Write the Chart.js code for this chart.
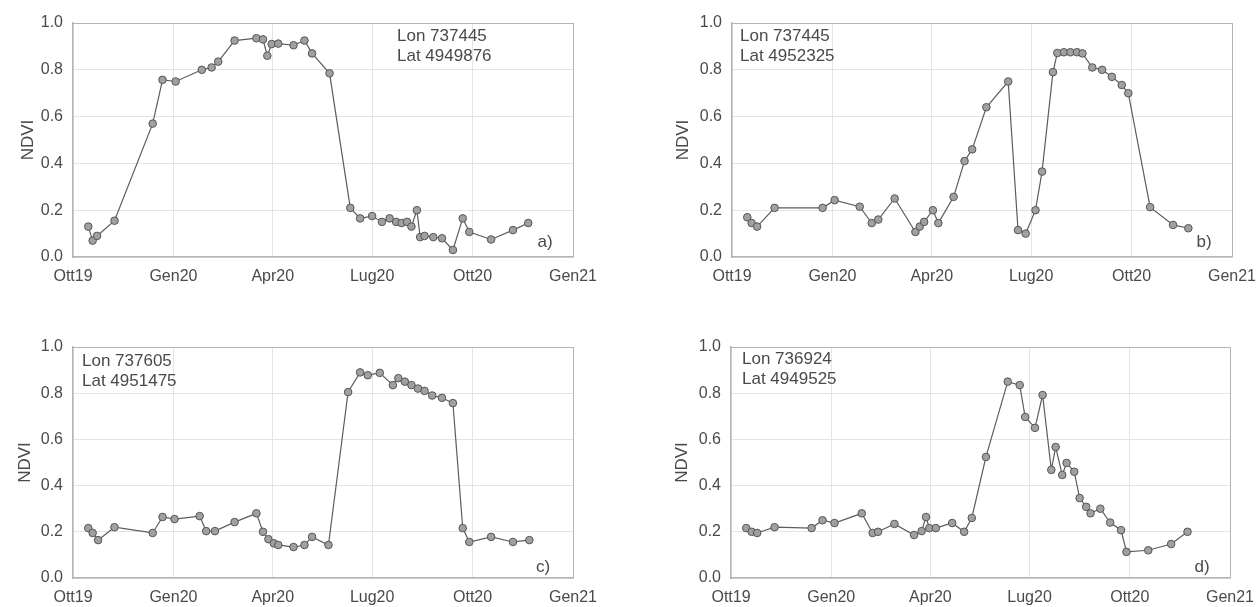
<!DOCTYPE html>
<html>
<head>
<meta charset="utf-8">
<script src="https://cdn.jsdelivr.net/npm/chart.js@4/dist/chart.umd.min.js"></script>
<style>
    html, body { margin: 0; padding: 0; background: #fff; }
    body { width: 1258px; height: 607px; position: relative; overflow: hidden; }
    canvas { position: absolute; }
</style>
</head>
<body>
<canvas id="panel-a" width="600" height="290" style="left:0;top:0"></canvas>
<canvas id="panel-b" width="618" height="290" style="left:640px;top:0"></canvas>
<canvas id="panel-c" width="600" height="287" style="left:0;top:320px"></canvas>
<canvas id="panel-d" width="618" height="287" style="left:640px;top:320px"></canvas>
<script>
// ===========================================
// DATA (days since 1 Oct 2019, NDVI)
// ===========================================
const tickDays = [0, 92, 183, 274, 366, 458];
const tickLabels = ['Ott19', 'Gen20', 'Apr20', 'Lug20', 'Ott20', 'Gen21'];

const daysA = [14, 18, 22, 38, 73, 82, 94, 118, 127, 133, 148, 168, 174, 178, 182, 188, 202, 212, 219, 235,
    254, 263, 274, 283, 290, 296, 301, 306, 310, 315, 318, 322, 330, 338, 348, 357, 363, 383, 403, 417];
const ndviA = [0.13, 0.07, 0.09, 0.155, 0.57, 0.757, 0.75, 0.80, 0.81, 0.835, 0.925, 0.935, 0.93, 0.86, 0.91, 0.912, 0.905, 0.925, 0.87, 0.785,
    0.21, 0.165, 0.175, 0.15, 0.165, 0.15, 0.145, 0.15, 0.13, 0.2, 0.085, 0.09, 0.085, 0.08, 0.03, 0.165, 0.107, 0.075, 0.115, 0.145];

const daysB = [14, 18, 23, 39, 83, 94, 117, 128, 134, 149, 168, 172, 176, 184, 189, 203, 213, 220, 233, 253,
    262, 269, 278, 284, 294, 298, 304, 310, 316, 321, 330, 339, 348, 357, 363, 383, 404, 418];
const ndviB = [0.17, 0.145, 0.13, 0.21, 0.21, 0.243, 0.215, 0.145, 0.16, 0.25, 0.107, 0.13, 0.15, 0.2, 0.145, 0.257, 0.41, 0.46, 0.64, 0.75,
    0.115, 0.10, 0.2, 0.365, 0.79, 0.872, 0.875, 0.875, 0.875, 0.87, 0.81, 0.80, 0.77, 0.735, 0.70, 0.213, 0.137, 0.123];

const daysC = [14, 18, 23, 38, 73, 82, 93, 116, 122, 130, 148, 168, 174, 179, 184, 188, 202, 212, 219, 234,
    252, 263, 270, 281, 293, 298, 304, 310, 316, 322, 329, 338, 348, 357, 363, 383, 403, 418];
const ndviC = [0.216, 0.195, 0.164, 0.22, 0.195, 0.264, 0.255, 0.268, 0.203, 0.203, 0.242, 0.28, 0.20, 0.168, 0.15, 0.143, 0.134, 0.143, 0.178, 0.143,
    0.805, 0.89, 0.878, 0.888, 0.835, 0.865, 0.85, 0.835, 0.82, 0.81, 0.79, 0.78, 0.757, 0.216, 0.156, 0.178, 0.156, 0.164];

const daysD = [14, 19, 24, 40, 74, 84, 95, 120, 130, 135, 150, 168, 175, 179, 182, 188, 203, 214, 221, 234,
    254, 265, 270, 279, 286, 294, 298, 304, 308, 315, 320, 326, 330, 339, 348, 358, 363, 383, 404, 419];
const ndviD = [0.216, 0.2, 0.195, 0.22, 0.216, 0.25, 0.238, 0.28, 0.195, 0.2, 0.234, 0.186, 0.203, 0.264, 0.216, 0.216, 0.238, 0.2, 0.26, 0.524,
    0.85, 0.835, 0.697, 0.65, 0.792, 0.468, 0.567, 0.446, 0.498, 0.46, 0.346, 0.308, 0.28, 0.30, 0.24, 0.207, 0.113, 0.12, 0.147, 0.2];

// ===========================================
// STYLE
// ===========================================
const FONT = 'Liberation Sans, Arial, sans-serif';
const TEXT_COLOR = '#4a4a4a';
const GRID_COLOR = '#e4e4e4';
const FRAME_COLOR = '#b4b4b4';

// text in the corner of each panel (coordinates + panel letter)
const panelText = {
    id: 'panelText',
    afterDraw(chart, args, opts) {
        const ctx = chart.ctx;
        const area = chart.chartArea;
        ctx.save();
        ctx.fillStyle = TEXT_COLOR;
        ctx.font = opts.size + 'px ' + FONT;
        ctx.textBaseline = 'middle';
        ctx.textAlign = 'left';
        opts.lines.forEach((line, i) => {
            ctx.fillText(line, area.left + opts.dx, area.top + opts.dy + i * 20);
        });
        ctx.textAlign = 'center';
        ctx.fillText(opts.tag, area.right - opts.tagDx, area.bottom - opts.tagDy);
        ctx.restore();
    }
};

// ===========================================
// PANELS
// ===========================================
function makePanel(id, days, ndvi, box, text) {
    const ctx = document.getElementById(id);
    return new Chart(ctx, {
        type: 'line',
        data: {
            datasets: [{
                data: days.map((d, i) => ({ x: d, y: ndvi[i] })),
                borderColor: '#5c5c5c',
                borderWidth: 1.2,
                pointRadius: 3.8,
                pointBackgroundColor: '#a0a0a0',
                pointBorderColor: '#555',
                pointBorderWidth: 1,
                tension: 0
            }]
        },
        options: {
            responsive: false,
            animation: false,
            layout: { padding: { left: box.padLeft, top: box.top, right: box.padRight, bottom: 0 } },
            plugins: {
                legend: { display: false },
                tooltip: { enabled: false },
                panelText: text
            },
            scales: {
                x: {
                    type: 'linear',
                    min: 0,
                    max: 458,
                    afterBuildTicks: s => { s.ticks = tickDays.map(v => ({ value: v })); },
                    afterFit: s => {
                        s.height = box.xHeight;
                        s.paddingLeft = 0;
                        s.paddingRight = 0;
                    },
                    ticks: {
                        autoSkip: false,
                        maxRotation: 0,
                        padding: 10,
                        color: TEXT_COLOR,
                        font: { family: FONT, size: 16 },
                        callback: (v, i) => tickLabels[i]
                    },
                    grid: {
                        drawTicks: false,
                        color: c => (c.tick && c.tick.value === 458 ? FRAME_COLOR : GRID_COLOR)
                    },
                    border: { color: FRAME_COLOR, width: 1.5 }
                },
                y: {
                    min: 0,
                    max: 1,
                    afterFit: s => {
                        s.width = box.yWidth;
                        s.paddingTop = 0;
                        s.paddingBottom = 0;
                    },
                    ticks: {
                        stepSize: 0.2,
                        padding: 10,
                        color: TEXT_COLOR,
                        font: { family: FONT, size: 16 },
                        callback: v => v.toFixed(1)
                    },
                    title: {
                        display: true,
                        text: 'NDVI',
                        color: TEXT_COLOR,
                        font: { family: FONT, size: 17 },
                        padding: { top: 4, bottom: 0 }
                    },
                    grid: {
                        drawTicks: false,
                        color: c => (c.tick && c.tick.value === 1 ? FRAME_COLOR : GRID_COLOR)
                    },
                    border: { color: FRAME_COLOR, width: 1.5 }
                }
            }
        },
        plugins: [panelText]
    });
}

makePanel('panel-a', daysA, ndviA,
    { padLeft: 14, yWidth: 59, top: 23, padRight: 27, xHeight: 33 },
    { lines: ['Lon 737445', 'Lat 4949876'], dx: 324, dy: 13, size: 17, tag: 'a)', tagDx: 28, tagDy: 15 });

makePanel('panel-b', daysB, ndviB,
    { padLeft: 29, yWidth: 63, top: 23, padRight: 26, xHeight: 33 },
    { lines: ['Lon 737445', 'Lat 4952325'], dx: 8, dy: 13, size: 17, tag: 'b)', tagDx: 28, tagDy: 15 });

makePanel('panel-c', daysC, ndviC,
    { padLeft: 11, yWidth: 62, top: 27, padRight: 27, xHeight: 29 },
    { lines: ['Lon 737605', 'Lat 4951475'], dx: 9, dy: 14, size: 17, tag: 'c)', tagDx: 30, tagDy: 11 });

makePanel('panel-d', daysD, ndviD,
    { padLeft: 28, yWidth: 63, top: 27, padRight: 28, xHeight: 29 },
    { lines: ['Lon 736924', 'Lat 4949525'], dx: 11, dy: 12, size: 17, tag: 'd)', tagDx: 28, tagDy: 11 });
</script>
</body>
</html>
